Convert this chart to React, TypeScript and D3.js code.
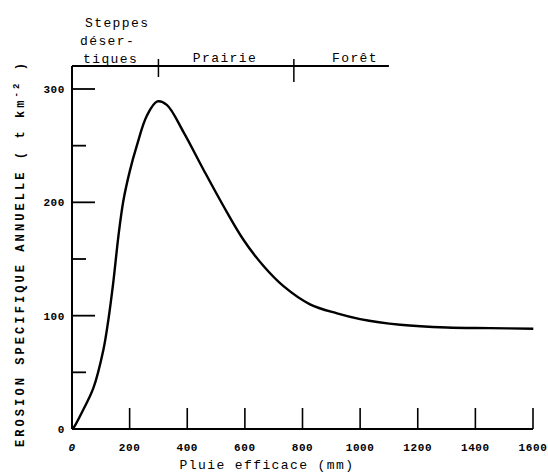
import React from 'react';
import * as d3 from 'd3';

// lecture de la courbe (pluie efficace mm -> erosion t/km2/an)
const rain = [0, 5, 39, 74, 109, 126, 144, 161, 178, 201, 225, 259, 296, 329, 387, 456, 525, 595, 664, 734, 826, 920, 1000, 1139, 1301, 1450, 1601];
const erosion = [0, 1, 17, 36, 70, 96, 131, 170, 201, 228, 250, 276, 289, 286, 262, 229, 197, 167, 144, 126, 110, 102, 97, 92, 89.5, 89, 88.5];

const xTicks = [200, 400, 600, 800, 1000, 1200, 1400, 1600];
const xLabels = [0, 200, 400, 600, 800, 1000, 1200, 1400, 1600];
const yMajor = [100, 200, 300];
const yMinor = [50, 150, 250];
const zoneBounds = [300, 770];
const zoneEnd = 1100;

const W = 548;
const H = 474;
const mono = '"Liberation Mono", "DejaVu Sans Mono", monospace';

export default function App() {
  const x = d3.scaleLinear().domain([0, 1600]).range([72, 533]);
  const y = d3.scaleLinear().domain([0, 300]).range([429, 89]);

  const pts: [number, number][] = rain.map((r, i) => [r, erosion[i]]);
  const line = d3.line<[number, number]>()
    .x(d => x(d[0]))
    .y(d => y(d[1]))
    .curve(d3.curveCatmullRom.alpha(0.5));

  const topY = 66;

  return (
    <svg width={W} height={H} style={{ position: 'absolute', left: 0, top: 0, background: '#fff' }}>
      {/* axes */}
      <line x1={x(0)} x2={x(1600)} y1={y(0)} y2={y(0)} stroke="#000" strokeWidth={2} />
      <line x1={x(0)} x2={x(0)} y1={y(0)} y2={topY} stroke="#000" strokeWidth={2} />
      <line x1={x(0)} x2={x(zoneEnd)} y1={topY} y2={topY} stroke="#000" strokeWidth={2} />

      {xTicks.map(t => (
        <line key={'xt' + t} x1={x(t)} x2={x(t)} y1={y(0)} y2={y(0) - 21} stroke="#000" strokeWidth={1.6} />
      ))}
      {xLabels.map(t => (
        <text key={'xl' + t} x={x(t)} y={451} textAnchor="middle" fontFamily={mono} fontSize={11}
          fontWeight="bold" fontStyle={t === 0 ? 'italic' : 'normal'} letterSpacing={0.6}>{t}</text>
      ))}

      {yMajor.map(t => (
        <line key={'ym' + t} x1={x(0)} x2={x(0) + 23} y1={y(t)} y2={y(t)} stroke="#000" strokeWidth={1.8} />
      ))}
      {yMinor.map(t => (
        <line key={'yn' + t} x1={x(0)} x2={x(0) + 14} y1={y(t)} y2={y(t)} stroke="#000" strokeWidth={1.8} />
      ))}
      {[0, ...yMajor].map(t => (
        <text key={'yl' + t} x={65} y={y(t) + 4} textAnchor="end" fontFamily={mono} fontSize={11}
          fontWeight="bold" letterSpacing={0.6}>{t}</text>
      ))}

      {/* zones */}
      {zoneBounds.map(b => (
        <line key={'zb' + b} x1={x(b)} x2={x(b)} y1={topY - 7} y2={topY + (b > 500 ? 16 : 11)} stroke="#000" strokeWidth={1.5} />
      ))}
      <g fontFamily={mono} fontSize={13} letterSpacing={1.4}>
        <text x={85} y={27}>Steppes</text>
        <text x={80} y={45}>déser-</text>
        <text x={83} y={63}>tiques</text>
        <text x={225} y={62} textAnchor="middle">Prairie</text>
        <text x={355} y={62} textAnchor="middle">Forêt</text>
      </g>

      {/* courbe */}
      <path d={line(pts) || ''} fill="none" stroke="#000" strokeWidth={2.4} strokeLinejoin="round" />

      {/* titres d'axes */}
      <text x={267} y={469} textAnchor="middle" fontFamily={mono} fontSize={13} letterSpacing={1.4}>Pluie efficace (mm)</text>
      <text transform="translate(24,255) rotate(-90)" textAnchor="middle" fontFamily={mono} fontSize={12}
        fontWeight="bold" textLength={384} lengthAdjust="spacing">
        EROSION SPECIFIQUE ANNUELLE ( t km<tspan dy={-5} fontSize={9}>-2</tspan><tspan dy={5}> )</tspan>
      </text>
    </svg>
  );
}
